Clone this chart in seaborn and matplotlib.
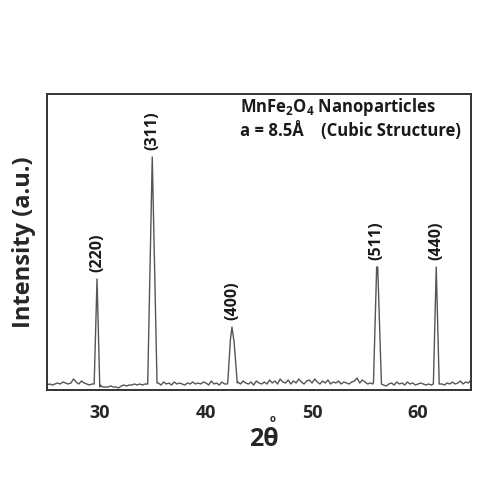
import matplotlib
matplotlib.use("Agg")
import matplotlib.pyplot as plt
import numpy as np
import pandas as pd
import seaborn as sns

# baseline noise, one value every 0.25 deg from 25 to 65
noise = [5, 6, 5, 6, 7, 6, 8, 7, 6, 7, 11, 8, 6, 9, 7, 6, 5, 6,
         6, 6, 5,
         3, 3, 3, 4, 3, 3, 2, 4, 5, 4, 5, 5, 6, 5, 6, 5, 6,
         7, 7, 7, 7,
         7, 5, 8, 6, 7, 5, 8, 6, 7, 6, 5, 7, 6, 8, 6, 7, 6, 8, 7, 5, 9, 6, 7, 5, 8, 6,
         6, 6, 6, 6,
         8, 6, 9, 7, 6, 8, 5, 9, 7, 6, 8, 6, 10, 7, 9, 6, 11, 8, 7, 10, 6, 9, 7, 11, 8,
         6, 9, 10, 7, 11, 8, 6, 9, 7, 10, 6, 8, 7, 9, 6, 8, 7, 6, 8, 9, 12, 7, 10, 8, 6, 7,
         6, 6, 6, 6,
         5, 4, 6, 7, 5, 8, 6, 7, 5, 8, 6, 7, 5, 6, 7, 6, 5, 6, 5,
         5, 5,
         5, 6, 5, 7, 6, 8, 6, 7, 9, 6, 8, 7, 10]

# reflections: label, profile angles, profile intensities
peak_labels = ["(220)", "(311)", "(400)", "(511)", "(440)"]
peak_x = [[29.45, 29.72, 29.98],
          [34.5, 34.93, 35.38],
          [42.05, 42.3, 42.45, 42.65, 42.95],
          [55.8, 56.1, 56.2, 56.55],
          [61.45, 61.72, 62.0]]
peak_y = [[6, 111, 3],
          [6, 233, 7],
          [7, 50, 63, 48, 7],
          [8, 123, 123, 6],
          [6, 123, 6]]

two_theta = np.arange(25, 65.001, 0.25)
bg = pd.DataFrame({"tt": two_theta, "I": noise})
for px in peak_x:
    bg = bg[(bg.tt < px[0]) | (bg.tt > px[-1])]
pk = pd.DataFrame({"tt": sum(peak_x, []), "I": sum(peak_y, [])})
xrd = pd.concat([bg, pk]).sort_values("tt").reset_index(drop=True)

sns.set_style("white")
plt.rcParams["font.family"] = ["Open Sans", "DejaVu Sans"]
plt.rcParams["mathtext.fontset"] = "custom"
plt.rcParams["mathtext.rm"] = "Open Sans:bold"
plt.rcParams["mathtext.it"] = "Open Sans:bold"
plt.rcParams["mathtext.bf"] = "Open Sans:bold"

fig = plt.figure(figsize=(5, 5), dpi=100)
ax = fig.add_axes([0.094, 0.22, 0.848, 0.592])
sns.lineplot(data=xrd, x="tt", y="I", sort=False, estimator=None,
             color="#555555", linewidth=1.0, ax=ax)

for lab, px, py in zip(peak_labels, peak_x, peak_y):
    top = int(np.argmax(py))
    ax.text(px[top], max(py) + 7, lab, rotation=90, ha="center", va="bottom",
            fontsize=11.5, fontweight="bold", color="#1a1a1a")

ax.text(0.455, 0.956, "MnFe$_2$O$_4$ Nanoparticles", transform=ax.transAxes,
        fontsize=12, fontweight="bold", color="#1a1a1a", va="center", ha="left")
ax.text(0.455, 0.875, "a = 8.5Å    (Cubic Structure)", transform=ax.transAxes,
        fontsize=12, fontweight="bold", color="#1a1a1a", va="center", ha="left")

ax.set_xlim(25, 65)
ax.set_ylim(0, 296)
ax.set_xticks([30, 40, 50, 60])
ax.set_xticks([35, 45, 55], minor=True)
ax.set_yticks([])
ax.tick_params(axis="x", which="major", direction="out", length=4, width=2.5,
               labelsize=13, pad=6, color="#222222")
ax.tick_params(axis="x", which="minor", direction="out", length=3, width=2.5,
               color="#222222")
for lbl in ax.get_xticklabels():
    lbl.set_fontweight("bold")
for s in ax.spines.values():
    s.set_color("#333333")
    s.set_linewidth(1.4)

ax.set_ylabel("Intensity (a.u.)", fontsize=17, fontweight="bold", labelpad=8)
ax.set_xlabel("2θ", fontsize=18, fontweight="bold", labelpad=4)
ax.xaxis.set_label_coords(0.512, -0.125)
ax.text(0.533, -0.098, "o", transform=ax.transAxes, fontsize=7, fontweight="bold",
        ha="center", va="center")

fig.savefig("out.png", dpi=100)
